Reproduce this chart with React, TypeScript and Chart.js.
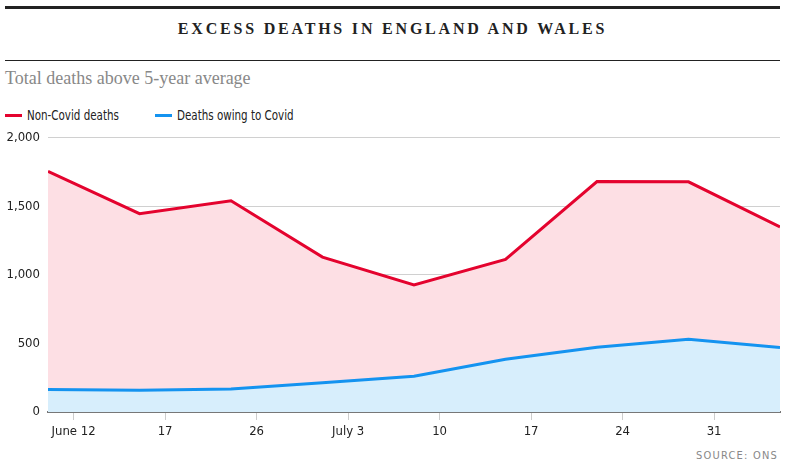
import Chart from "chart.js/auto";
import { useEffect, useRef } from "react";

// weekly excess deaths
const weeks = [0, 1, 2, 3, 4, 5, 6, 7, 8];
const nonCovid = [1755, 1447, 1541, 1130, 927, 1113, 1681, 1679, 1350];
const covid = [165, 158, 167, 213, 261, 385, 472, 530, 470];
const tickLabels = ["June 12", "17", "26", "July 3", "10", "17", "24", "31"];
const yTicks = [0, 500, 1000, 1500, 2000];
const seriesNames = ["Non-Covid deaths", "Deaths owing to Covid"];

const RED = "#e4032e";
const BLUE = "#1493f0";
const sans = "'DejaVu Sans Condensed', 'Liberation Sans Narrow', sans-serif";
const serif = "'Liberation Serif', serif";

const Graph = () => {
  const canvasRef = useRef<HTMLCanvasElement>(null);

  useEffect(() => {
    const ctx = canvasRef.current?.getContext("2d");
    if (!ctx) return;

    const chart = new Chart(ctx, {
      type: "line",
      data: {
        datasets: [
          {
            label: seriesNames[0],
            data: weeks.map((w, i) => ({ x: w, y: nonCovid[i] })),
            borderColor: RED,
            backgroundColor: "#fddfe4",
            borderWidth: 3,
            fill: "origin",
            pointRadius: 0,
            tension: 0,
            order: 2,
          },
          {
            label: seriesNames[1],
            data: weeks.map((w, i) => ({ x: w, y: covid[i] })),
            borderColor: BLUE,
            backgroundColor: "#d7eefc",
            borderWidth: 3,
            fill: "origin",
            pointRadius: 0,
            tension: 0,
            order: 1,
          },
        ],
      },
      options: {
        animation: false,
        responsive: false,
        layout: { padding: { top: 2, right: 2, bottom: 0, left: 0 } },
        plugins: {
          legend: { display: false },
          tooltip: { enabled: false },
        },
        scales: {
          x: {
            type: "linear",
            min: 0,
            max: 8,
            afterBuildTicks: (scale) => {
              // labels sit a bit to the right of each weekly point
              scale.ticks = tickLabels.map((_, i) => ({ value: i + 0.28 }));
            },
            afterFit: (scale) => {
              scale.height = 36;
            },
            ticks: {
              autoSkip: false,
              maxRotation: 0,
              padding: 4,
              color: "#222",
              font: { family: sans, size: 13 },
              callback: (_v, i) => tickLabels[i],
            },
            grid: {
              drawOnChartArea: false,
              drawTicks: true,
              tickLength: 8,
              color: "#cccccc",
            },
            border: { display: true, color: "#777", width: 2 },
          },
          y: {
            min: 0,
            max: 2000,
            afterBuildTicks: (scale) => {
              scale.ticks = yTicks.map((v) => ({ value: v }));
            },
            afterFit: (scale) => {
              scale.width = 48;
            },
            ticks: {
              padding: 8,
              color: "#222",
              font: { family: sans, size: 13 },
              callback: (v) => Number(v).toLocaleString("en-GB"),
            },
            grid: { color: "#d0d0d0", drawTicks: false },
            border: { display: false },
          },
        },
      },
    });

    return () => {
      chart.destroy();
    };
  }, []);

  return (
    <canvas
      ref={canvasRef}
      width={782}
      height={326}
      style={{ position: "absolute", left: 0, top: 122, width: 782, height: 326 }}
    ></canvas>
  );
};

export default function App() {
  return (
    <div
      style={{
        position: "absolute",
        left: 0,
        top: 0,
        width: 796,
        height: 473,
        background: "#fff",
        overflow: "hidden",
      }}
    >
      <div style={{ position: "absolute", left: 5, top: 6, width: 775, height: 3, background: "#222" }} />
      <div
        style={{
          position: "absolute",
          left: 5,
          top: 18,
          width: 775,
          textAlign: "center",
          fontFamily: serif,
          fontWeight: "bold",
          fontSize: 16,
          letterSpacing: 2.8,
          color: "#222",
          lineHeight: "22px",
        }}
      >
        EXCESS DEATHS IN ENGLAND AND WALES
      </div>
      <div style={{ position: "absolute", left: 5, top: 60, width: 775, height: 1, background: "#222" }} />
      <div
        style={{
          position: "absolute",
          left: 5,
          top: 67,
          fontFamily: serif,
          fontSize: 18,
          color: "#888",
          lineHeight: "22px",
        }}
      >
        Total deaths above 5-year average
      </div>
      {seriesNames.map((name, i) => (
        <div
          key={name}
          style={{
            position: "absolute",
            left: i === 0 ? 5 : 155,
            top: 106,
            display: "flex",
            alignItems: "center",
            fontFamily: sans,
            fontSize: 14,
            color: "#222",
            lineHeight: "18px",
            whiteSpace: "nowrap",
          }}
        >
          <span
            style={{
              display: "inline-block",
              width: 17,
              height: 3,
              marginRight: 5,
              background: i === 0 ? RED : BLUE,
            }}
          />
          <span
            style={{
              display: "inline-block",
              transform: "scaleX(0.82)",
              transformOrigin: "left center",
            }}
          >
            {name}
          </span>
        </div>
      ))}
      <Graph />
      <div
        style={{
          position: "absolute",
          right: 18,
          top: 448,
          fontFamily: sans,
          fontSize: 11,
          letterSpacing: 1.2,
          color: "#888",
          lineHeight: "16px",
        }}
      >
        SOURCE: ONS
      </div>
    </div>
  );
}
